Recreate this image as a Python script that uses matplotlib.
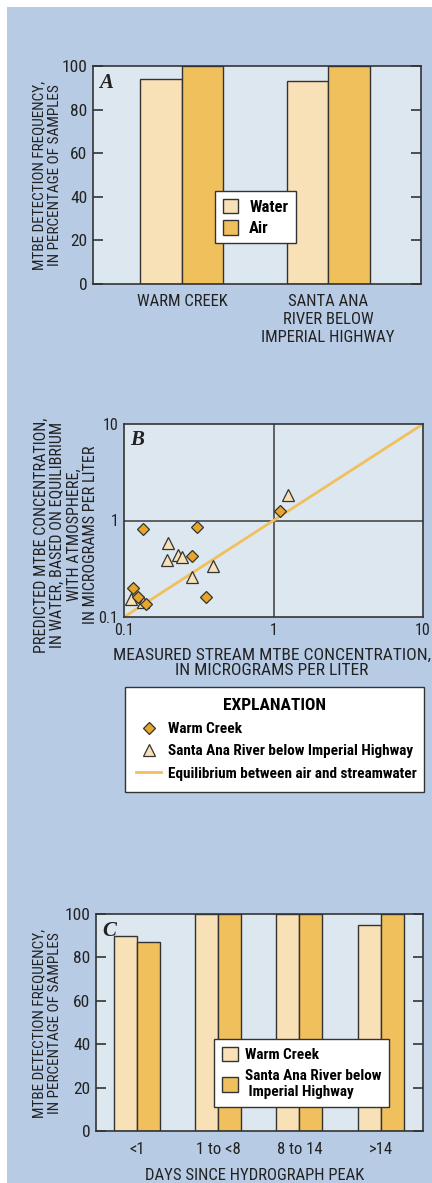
import numpy as np
import matplotlib
matplotlib.use("Agg")
import matplotlib.pyplot as plt
from matplotlib.patches import Rectangle
from matplotlib.lines import Line2D

plt.rcParams['font.family'] = ['Roboto Condensed', 'DejaVu Sans']

# ---------------- data ----------------
cats_A = ['WARM CREEK', 'SANTA ANA\nRIVER BELOW\nIMPERIAL HIGHWAY']
water_A = [94, 93]
air_A = [100, 100]

warm_x = [0.135, 0.306, 0.287, 0.114, 0.124, 0.140, 0.351, 1.11]
warm_y = [0.82, 0.86, 0.43, 0.20, 0.16, 0.136, 0.16, 1.25]
santa_x = [1.25, 0.198, 0.229, 0.246, 0.194, 0.396, 0.283, 0.111, 0.134]
santa_y = [1.85, 0.58, 0.44, 0.42, 0.39, 0.34, 0.26, 0.152, 0.143]
eq_x = [0.1, 10]
eq_y = [0.1, 10]

cats_C = ['<1', '1 to <8', '8 to 14', '>14']
warm_C = [90, 100, 100, 95]
santa_C = [87, 100, 100, 100]

# ---------------- style ----------------
W, H = 432, 1183
BG = '#b8cbe4'
FACE = '#dde7f0'
LIGHT = '#f8e1b6'
GOLD = '#f0c05c'
DIAM = '#e5a62a'
EDGE = '#333333'
TXT = '#222222'

fig = plt.figure(figsize=(W / 100, H / 100), dpi=100)
fig.patch.set_facecolor('white')
fig.patches.append(Rectangle((7 / W, 0), 1, 1 - 7 / H, transform=fig.transFigure,
                             facecolor=BG, edgecolor='none', zorder=-10))


def rect(l, r, t, b):
    return [l / W, 1 - b / H, (r - l) / W, (b - t) / H]


def fx(x):
    return x / W


def fy(y):
    return 1 - y / H


def style_axes(ax):
    ax.set_facecolor(FACE)
    for s in ax.spines.values():
        s.set_color(EDGE)
        s.set_linewidth(1.2)


def panel_letter(ax, letter):
    ax.text(0.02, 0.97, letter, transform=ax.transAxes, ha='left', va='top',
            fontsize=15, fontweight='bold', fontstyle='italic',
            family=['Liberation Serif', 'DejaVu Serif'], color=TXT)


# ---------------- Panel A ----------------
axA = fig.add_axes(rect(93, 421, 66, 284))
style_axes(axA)
xa = np.arange(len(cats_A))
wA = 0.284
axA.bar(xa - wA / 2, water_A, wA, color=LIGHT, edgecolor=EDGE, linewidth=1.0, label='Water', zorder=2)
axA.bar(xa + wA / 2, air_A, wA, color=GOLD, edgecolor=EDGE, linewidth=1.0, label='Air', zorder=2)
axA.set_xlim(-0.608, 1.634)
axA.set_ylim(0, 100)
axA.set_yticks([0, 20, 40, 60, 80, 100])
axA.set_xticks(xa)
axA.set_xticklabels(cats_A, fontsize=12, color=TXT, linespacing=1.28)
axA.tick_params(axis='y', direction='in', length=7, width=1.2, left=True, right=True,
                labelsize=12.5, pad=4, colors=EDGE, labelcolor=TXT)
axA.tick_params(axis='x', length=0, pad=7)
panel_letter(axA, 'A')
fig.text(fx(47), fy(175), 'MTBE DETECTION FREQUENCY,\nIN PERCENTAGE OF SAMPLES',
         rotation=90, ha='center', va='center', fontsize=11, color=TXT, linespacing=1.1)
legA = axA.legend(loc='upper left', bbox_to_anchor=(fx(215), fy(191)),
                  bbox_transform=fig.transFigure, frameon=True, fancybox=False,
                  prop={'weight': 'bold', 'size': 12}, handlelength=0.95, handleheight=1.0,
                  handletextpad=0.65, labelspacing=0.3, borderpad=0.45, borderaxespad=0)
legA.get_frame().set_edgecolor(EDGE)
legA.get_frame().set_linewidth(1.0)
legA.get_frame().set_alpha(1)

# ---------------- Panel B ----------------
axB = fig.add_axes(rect(124, 423, 424, 617))
style_axes(axB)
axB.set_xscale('log')
axB.set_yscale('log')
axB.set_xlim(0.1, 10)
axB.set_ylim(0.1, 10)
axB.axvline(1, color='#555555', linewidth=1.3, zorder=1)
axB.axhline(1, color='#555555', linewidth=1.3, zorder=1)
axB.plot(eq_x, eq_y, color=GOLD, linewidth=2, zorder=2,
         label='Equilibrium between air and streamwater')
axB.plot(santa_x, santa_y, linestyle='none', marker='^', markersize=8.5,
         markerfacecolor=LIGHT, markeredgecolor=EDGE, markeredgewidth=0.9, zorder=3,
         label='Santa Ana River below Imperial Highway')
axB.plot(warm_x, warm_y, linestyle='none', marker='D', markersize=6.3,
         markerfacecolor=DIAM, markeredgecolor=EDGE, markeredgewidth=0.9, zorder=4,
         label='Warm Creek')
axB.set_xticks([0.1, 1, 10])
axB.set_xticklabels(['0.1', '1', '10'])
axB.set_yticks([0.1, 1, 10])
axB.set_yticklabels(['0.1', '1', '10'])
axB.minorticks_off()
axB.tick_params(axis='both', length=0, labelsize=11.5, labelcolor=TXT)
axB.tick_params(axis='x', pad=4)
axB.tick_params(axis='y', pad=4)
panel_letter(axB, 'B')
fig.text(fx(66), fy(535),
         'PREDICTED MTBE CONCENTRATION,\nIN WATER, BASED ON EQUILIBRIUM\nWITH ATMOSPHERE,\nIN MICROGRAMS PER LITER',
         rotation=90, ha='center', va='center', fontsize=11.6, color=TXT, linespacing=1.12)
fig.text(fx(272), fy(663), 'MEASURED STREAM MTBE CONCENTRATION,\nIN MICROGRAMS PER LITER',
         ha='center', va='center', fontsize=12.6, color=TXT, linespacing=1.0)

hB = [Line2D([], [], linestyle='none', marker='D', markersize=6.3, markerfacecolor=DIAM,
             markeredgecolor=EDGE, markeredgewidth=0.9),
      Line2D([], [], linestyle='none', marker='^', markersize=8.5, markerfacecolor=LIGHT,
             markeredgecolor=EDGE, markeredgewidth=0.9),
      Line2D([], [], color=GOLD, linewidth=2)]
lB = ['Warm Creek', 'Santa Ana River below Imperial Highway',
      'Equilibrium between air and streamwater']
legB = fig.legend(hB, lB, loc='upper left',
                  bbox_to_anchor=(fx(125), fy(792), fx(424) - fx(125), fy(687) - fy(792)),
                  mode='expand', frameon=True, fancybox=False, title='EXPLANATION',
                  title_fontproperties={'weight': 'bold', 'size': 12.5},
                  prop={'weight': 'bold', 'size': 11}, handlelength=1.6,
                  handletextpad=0.45, labelspacing=0.55, borderpad=0.75, borderaxespad=0)
legB._legend_box.align = 'center'
legB.get_frame().set_edgecolor(EDGE)
legB.get_frame().set_linewidth(1.0)
legB.get_frame().set_alpha(1)

# ---------------- Panel C ----------------
axC = fig.add_axes(rect(96, 423, 914, 1131))
style_axes(axC)
xc = np.arange(len(cats_C))
wC = 0.283
axC.bar(xc - wC / 2, warm_C, wC, color=LIGHT, edgecolor=EDGE, linewidth=1.0,
        label='Warm Creek', zorder=2)
axC.bar(xc + wC / 2, santa_C, wC, color=GOLD, edgecolor=EDGE, linewidth=1.0,
        label='Santa Ana River below\n Imperial Highway', zorder=2)
axC.set_xlim(-0.5, 3.52)
axC.set_ylim(0, 100)
axC.set_yticks([0, 20, 40, 60, 80, 100])
axC.set_xticks(xc)
axC.set_xticklabels(cats_C, fontsize=12, color=TXT)
axC.tick_params(axis='y', direction='in', length=7, width=1.2, left=True, right=True,
                labelsize=12.5, pad=4, colors=EDGE, labelcolor=TXT)
axC.tick_params(axis='x', length=0, pad=8)
panel_letter(axC, 'C')
fig.text(fx(47), fy(1023), 'MTBE DETECTION FREQUENCY,\nIN PERCENTAGE OF SAMPLES',
         rotation=90, ha='center', va='center', fontsize=11, color=TXT, linespacing=1.1)
fig.text(fx(255), fy(1175), 'DAYS SINCE HYDROGRAPH PEAK', ha='center', va='center',
         fontsize=12, color=TXT)
legC = axC.legend(loc='upper left', bbox_to_anchor=(fx(214), fy(1039)),
                  bbox_transform=fig.transFigure, frameon=True, fancybox=False,
                  prop={'weight': 'bold', 'size': 11}, handlelength=1.05, handleheight=1.1,
                  handletextpad=0.5, labelspacing=0.45, borderpad=0.5, borderaxespad=0)
legC.get_frame().set_edgecolor(EDGE)
legC.get_frame().set_linewidth(1.0)
legC.get_frame().set_alpha(1)

fig.savefig('out.png', dpi=100, facecolor=fig.get_facecolor())
